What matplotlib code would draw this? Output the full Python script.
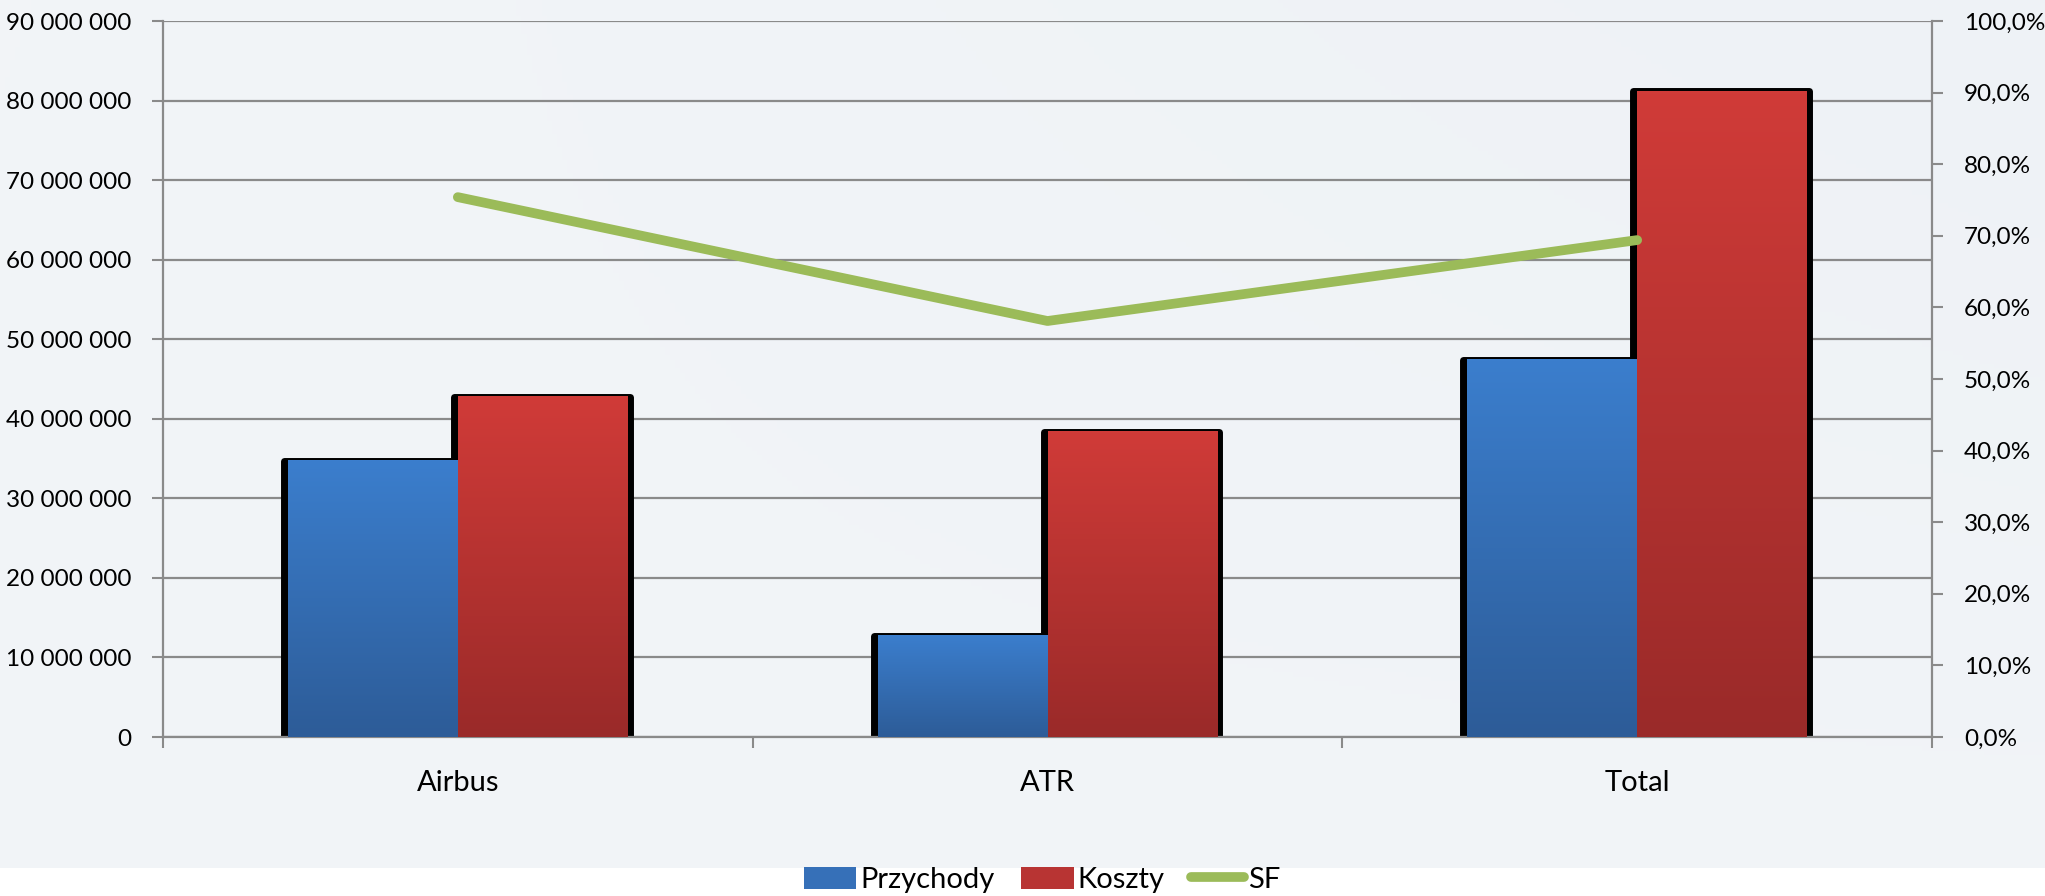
import matplotlib
matplotlib.use("Agg")
import matplotlib.pyplot as plt
import numpy as np
from matplotlib.patches import Patch
from matplotlib.lines import Line2D
from matplotlib.ticker import FuncFormatter, MultipleLocator

categories = ["Airbus", "ATR", "Total"]
przychody = [34.7e6, 12.7e6, 47.4e6]
koszty = [42.8e6, 38.4e6, 81.2e6]
sf = [75.4, 58.1, 69.4]

plt.rcParams['font.family'] = ['Lato', 'DejaVu Sans']

W, H = 2045, 896
fig = plt.figure(figsize=(W / 100, H / 100), dpi=100)
fig.patch.set_facecolor("white")

# sky-like background (plot region, above legend strip)
bg = fig.add_axes([0, 28 / H, 1, 1 - 28 / H], zorder=-10)
yy = np.linspace(0, 1, 200)[:, None]
xx = np.linspace(0, 1, 400)[None, :]
base = np.ones((200, 400, 3))
tint = 0.035 * (1 - yy) * (0.5 + 0.5 * xx) + 0.02 * yy
base[..., 0] = 0.965 - tint * 0.9
base[..., 1] = 0.970 - tint * 0.6
base[..., 2] = 0.975 - tint * 0.25
bg.imshow(base, aspect="auto", extent=[0, 1, 0, 1], origin="upper")
bg.axis("off")

left, right = 163 / W, 1932 / W
bottom, top = 1 - 737 / H, 1 - 21 / H
ax = fig.add_axes([left, bottom, right - left, top - bottom])
ax.patch.set_alpha(0)
ax2 = ax.twinx()

ymax = 90e6
ax.set_xlim(-0.5, 2.5)
ax.set_ylim(0, ymax)
ax2.set_ylim(0, 100)

axw_px = (right - left) * W
px_x = 3.0 / axw_px

bw = 0.288
x = np.arange(len(categories))

ax.yaxis.set_major_locator(MultipleLocator(10e6))
ax.grid(axis="y", color="#8a8a8a", linewidth=1.6, zorder=0)
ax.set_axisbelow(True)

blue_top = np.array([0x3B, 0x7E, 0xCD]) / 255
blue_bot = np.array([0x2D, 0x5C, 0x98]) / 255
red_top = np.array([0xD0, 0x3B, 0x38]) / 255
red_bot = np.array([0x9A, 0x2A, 0x29]) / 255

def grad(ctop, cbot):
    t = np.linspace(0, 1, 100)[:, None]
    return (ctop[None, :] * (1 - t) + cbot[None, :] * t)[:, None, :]

# shadows
for xs, vals in ((x - bw, przychody), (x, koszty)):
    for x0, v in zip(xs, vals):
        ax.bar(x0 - 4 * px_x, v, width=bw + 6 * px_x, align="edge",
               color="black", edgecolor="black", linewidth=5,
               joinstyle="round", zorder=2)

# gradient bars
for xs, vals, ct, cb in ((x - bw, przychody, blue_top, blue_bot),
                         (x, koszty, red_top, red_bot)):
    for x0, v in zip(xs, vals):
        ax.imshow(grad(ct, cb), extent=[x0, x0 + bw, 0, v], aspect="auto",
                  origin="upper", zorder=3, interpolation="bilinear")

ax.set_xlim(-0.5, 2.5)
ax.set_ylim(0, ymax)

ax2.plot(x, sf, color="#9BBB59", linewidth=7, solid_capstyle="round",
         solid_joinstyle="round", zorder=5)
ax2.set_zorder(ax.get_zorder() + 1)
ax2.patch.set_alpha(0)
ax2.yaxis.set_major_locator(MultipleLocator(10))
ax2.yaxis.set_major_formatter(FuncFormatter(lambda v, p: f"{v:.1f}%".replace(".", ",")))

ax.yaxis.set_major_formatter(FuncFormatter(lambda v, p: f"{int(v):,}".replace(",", " ")))

ax.set_xticks([-0.5, 0.5, 1.5, 2.5], minor=False)
ax.set_xticklabels([])
ax.set_xticks(x, minor=True)
ax.set_xticklabels(categories, minor=True)
ax.tick_params(axis="x", which="minor", length=0, pad=24, labelsize=21)
ax.tick_params(axis="x", which="major", length=8, color="#8a8a8a", width=1.5)
ax.tick_params(axis="y", length=8, color="#8a8a8a", width=1.5, labelsize=17.5, pad=15)
ax2.tick_params(axis="y", length=8, color="#8a8a8a", width=1.5, labelsize=17.5, pad=15)

for a in (ax, ax2):
    a.spines["top"].set_visible(False)
    for s in ("left", "right", "bottom"):
        a.spines[s].set_color("#8a8a8a")
        a.spines[s].set_linewidth(1.6)
ax.spines["right"].set_visible(False)
ax2.spines["left"].set_visible(False)
ax2.spines["bottom"].set_visible(False)

handles = [Patch(facecolor="#3670B8", edgecolor="none", label="Przychody"),
           Patch(facecolor="#B83433", edgecolor="none", label="Koszty"),
           Line2D([0], [0], color="#9BBB59", linewidth=7, solid_capstyle="round", label="SF")]
fig.legend(handles=handles, loc="center", bbox_to_anchor=(1042 / W, 1 - 880 / H),
           ncol=3, frameon=False, fontsize=21, handlelength=1.8, handleheight=0.8,
           handletextpad=0.15, columnspacing=0.9, borderaxespad=0)

fig.savefig("out.png", dpi=100)
